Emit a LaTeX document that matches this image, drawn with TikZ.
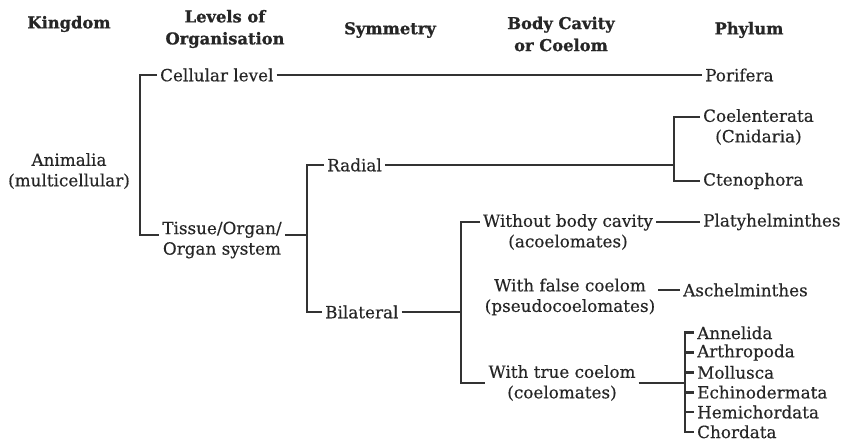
\documentclass[tikz,border=0pt]{standalone}
\usepackage{fontspec}
\setmainfont{DejaVu Serif}[FakeBold=0.4]
\newfontfamily\headfont{DejaVu Serif Bold}[FakeBold=1]
\begin{document}
\begin{tikzpicture}[x=1pt, y=-1pt,
  lbl/.style={font=\fontsize{16.8}{20.5}\selectfont, text=black!85, inner sep=3pt, align=center},
  head/.style={font=\fontsize{16.3}{22}\headfont, text=black!85, align=center},
  link/.style={line width=2.6pt, draw=black!80}]
\useasboundingbox (0,0) rectangle (843,443);

% column headings
\node[head] (hking) at (69,24) {Kingdom};
\node[head] (hlevel) at (225,29) {Levels of\\Organisation};
\node[head] (hsym) at (390,30) {Symmetry};
\node[head] (hbody) at (561,34) {Body Cavity\\or Coelom};
\node[head] (hphy) at (749,30) {Phylum};

% kingdom and levels
\node[lbl] (animalia) at (69,171) {Animalia\\(multicellular)};
\node[lbl, anchor=west] (cell) at (157,75) {Cellular level};
\node[lbl] (tissue) at (222,240) {Tissue/Organ/\\Organ system};

% symmetry
\node[lbl, anchor=west] (radial) at (324,165) {Radial};
\node[lbl, anchor=west] (bilat) at (322,312) {Bilateral};

% body cavity
\node[lbl] (without) at (568,232) {Without body cavity\\(acoelomates)};
\node[lbl] (falsec) at (570,297) {With false coelom\\(pseudocoelomates)};
\node[lbl] (truec) at (562,383) {With true coelom\\(coelomates)};

% phyla
\node[lbl, anchor=west] (porifera) at (702,75) {Porifera};
\node[lbl, anchor=west] (coel) at (700,127) {Coelenterata\\(Cnidaria)};
\node[lbl, anchor=west] (cteno) at (700,181) {Ctenophora};
\node[lbl, anchor=west] (platy) at (700,222) {Platyhelminthes};
\node[lbl, anchor=west] (asch) at (680,290) {Aschelminthes};
\foreach \name [count=\i] in {Annelida,Arthropoda,Mollusca,Echinodermata,Hemichordata,Chordata}
  \node[lbl, anchor=west] (p\i) at (694,313+19.8*\i) {\name};

% bracket spines
\coordinate (kspine) at (140,0);
\coordinate (sspine) at (307,0);
\coordinate (bspine) at (461,0);
\coordinate (rspine) at (674,0);
\coordinate (pspine) at (685,0);

\draw[link] (cell.west) -- (cell.west -| kspine) |- ([yshift=5pt]tissue.west);
\draw[link] (cell.east) -- (porifera.west);

\draw[link] ([yshift=5pt]tissue.east) -- ([yshift=5pt]tissue.east -| sspine);
\draw[link] (radial.west) -- (radial.west -| sspine) -- (bilat.west -| sspine) -- (bilat.west);

\draw[link] (radial.east) -- (radial.east -| rspine);
\draw[link] ([yshift=10pt]coel.west) -- ([yshift=10pt]coel.west -| rspine) -- (cteno.west -| rspine) -- (cteno.west);

\draw[link] (bilat.east) -- (bilat.east -| bspine);
\draw[link] ([yshift=10pt]without.west) -- ([yshift=10pt]without.west -| bspine) -- (truec.west -| bspine) -- (truec.west);
\draw[link] ([yshift=10pt]without.east) -- (platy.west);
\draw[link] ([yshift=7pt]falsec.east) -- (asch.west);

\draw[link] (truec.east) -- (truec.east -| pspine);
\draw[link] (p1.west) -- (p1.west -| pspine) -- (p6.west -| pspine) -- (p6.west);
\foreach \i in {2,...,5}
  \draw[link] (p\i.west -| pspine) -- (p\i.west);
\end{tikzpicture}
\end{document}
